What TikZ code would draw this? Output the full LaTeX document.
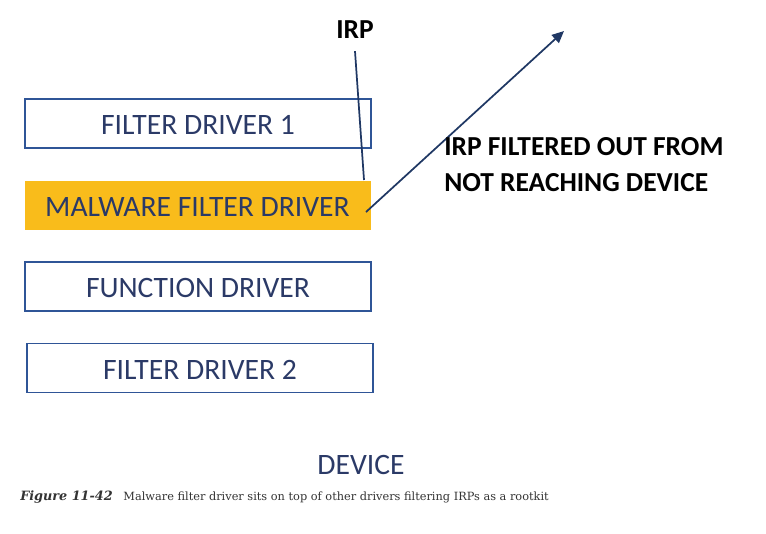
\documentclass[tikz,border=0pt]{standalone}
\usepackage{fontspec}
\setmainfont{Carlito}
\newfontfamily\capfont{DejaVu Serif}
\usetikzlibrary{arrows.meta}
\definecolor{boxline}{HTML}{2F5597}
\definecolor{boxtext}{HTML}{2B3A67}
\definecolor{malfill}{HTML}{F9BC1B}
\definecolor{irpline}{HTML}{203864}
\tikzset{
  drvbox/.style={draw=boxline,line width=1.4pt,minimum width=259.5pt,minimum height=36.75pt,
    inner sep=0pt,text=boxtext,text height=17pt,text depth=0pt,font=\fontsize{22.2}{24}\selectfont},
  malbox/.style={drvbox,draw=none,fill=malfill},
  lbl/.style={font=\bfseries\fontsize{20.6}{27}\selectfont,text=black,inner sep=0pt}
}
\begin{document}
\begin{tikzpicture}[x=0.75pt,y=-0.75pt]
\useasboundingbox (0,0) rectangle (766,533);
% the driver stack
\node[drvbox] (fd1) at (198,123.5) {FILTER DRIVER 1};
\node[malbox] (mal) at (197.5,205) {MALWARE FILTER DRIVER};
\node[drvbox] (fun) at (198,286.5) {FUNCTION DRIVER};
\node[drvbox] (fd2) at (200,368) {FILTER DRIVER 2};
\node[text=boxtext,font=\fontsize{22.2}{24}\selectfont,inner sep=0pt] (dev) at (361,465) {DEVICE};
% the IRP
\node[lbl] (irp) at (355,30) {IRP};
\coordinate (irpend) at (364,180);
\coordinate (outstart) at (366,212);
\coordinate (outend) at (564,31);
\draw[irpline,line width=1.3pt] ([yshift=-9pt]irp.south) -- (irpend);
\draw[irpline,line width=1.3pt,-{Triangle[length=9pt,width=8pt]}] (outstart) -- (outend);
\node[lbl,anchor=west,align=left] (note) at (444,165) {IRP FILTERED OUT FROM\\NOT REACHING DEVICE};
% caption
\node[anchor=west,inner sep=0pt,font=\capfont\fontsize{8.5}{10}\selectfont,text=black!80] (cap) at (20,497)
  {{\fontsize{9.6}{10}\selectfont\textbf{\textit{Figure 11-42}}}\hspace{8pt}Malware filter driver sits on top of other drivers filtering IRPs as a rootkit};
\end{tikzpicture}
\end{document}
